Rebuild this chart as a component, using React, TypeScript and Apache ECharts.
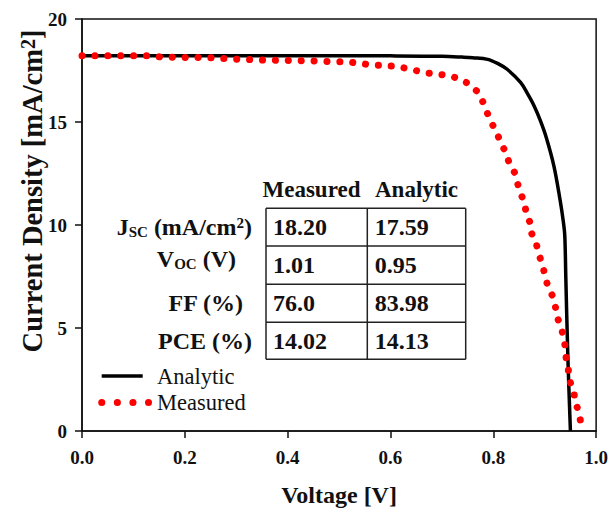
import React, { useEffect, useRef } from 'react';
import * as echarts from 'echarts';

const analyticV = [0, 0.2, 0.4, 0.6, 0.7, 0.74, 0.76, 0.789, 0.81, 0.827, 0.853, 0.866, 0.879, 0.891, 0.903, 0.918, 0.93, 0.936, 0.939, 0.941, 0.945, 0.95];
const analyticJ = [18.22, 18.22, 18.22, 18.21, 18.19, 18.15, 18.12, 18.04, 17.82, 17.56, 16.92, 16.4, 15.8, 15.1, 14.25, 12.85, 11.2, 10.2, 9.5, 7.5, 3.6, 0];

const measuredV = [0, 0.13, 0.155, 0.25, 0.3, 0.36, 0.44, 0.49, 0.514, 0.539, 0.561, 0.591, 0.613, 0.642, 0.666, 0.687, 0.71, 0.729, 0.749, 0.771, 0.78, 0.787, 0.796, 0.806, 0.815, 0.824, 0.83, 0.841, 0.847, 0.853, 0.861, 0.864, 0.873, 0.875, 0.884, 0.889, 0.896, 0.9, 0.906, 0.916, 0.921, 0.924, 0.932, 0.938, 0.94, 0.942, 0.946, 0.947, 0.957, 0.958, 0.966, 0.97];
const measuredJ = [18.22, 18.22, 18.15, 18.12, 18.05, 18.0, 17.97, 17.93, 17.93, 17.85, 17.78, 17.73, 17.7, 17.54, 17.4, 17.33, 17.27, 17.14, 16.9, 16.44, 15.96, 15.51, 15.0, 14.49, 14.0, 13.52, 13.08, 12.56, 12.03, 11.56, 11.03, 10.56, 10.03, 9.57, 9.05, 8.55, 8.04, 7.59, 7.04, 6.51, 6.0, 5.55, 5.0, 4.48, 3.98, 3.47, 2.96, 2.51, 1.95, 1.51, 0.95, 0.43];

const seriesNames = ['Analytic', 'Measured'];
const tableHeaders = ['Measured', 'Analytic'];
const rowLabels = [
  '{b|J}{sub|SC}{b| (mA/cm}{sup|2}{b|)}',
  '{b|V}{sub|OC}{b| (V)}',
  '{b|FF (%)}',
  '{b|PCE (%)}',
];
const measuredVals = ['18.20', '1.01', '76.0', '14.02'];
const analyticVals = ['17.59', '0.95', '83.98', '14.13'];

const SERIF = '"Liberation Serif", "Times New Roman", serif';

export default function App() {
  const ref = useRef<HTMLDivElement>(null);
  useEffect(() => {
    if (!ref.current) return;
    const chart = echarts.init(ref.current, null, { renderer: 'svg' });

    const colX = [266, 367.3, 465.7];
    const rowY = [208.3, 246, 284.3, 322.3, 359.3];
    const labelRight = [252, 236, 243, 252];
    const labelY = [227, 259, 303, 341];
    const richStyles = {
      b: { fontSize: 24, fontWeight: 'bold', fontFamily: SERIF, fill: '#111' },
      sub: { fontSize: 15, fontWeight: 'bold', fontFamily: SERIF, fill: '#111', verticalAlign: 'bottom' },
      sup: { fontSize: 15, fontWeight: 'bold', fontFamily: SERIF, fill: '#111', verticalAlign: 'top' },
    };

    const graphics: any[] = [];
    rowY.forEach((y) => {
      graphics.push({ type: 'line', shape: { x1: colX[0], y1: y, x2: colX[2], y2: y }, style: { stroke: '#222', lineWidth: 1.5 } });
    });
    colX.forEach((x) => {
      graphics.push({ type: 'line', shape: { x1: x, y1: rowY[0], x2: x, y2: rowY[4] }, style: { stroke: '#222', lineWidth: 1.5 } });
    });
    tableHeaders.forEach((h, i) => {
      graphics.push({ type: 'text', x: i === 0 ? 262.5 : 375, y: 189, style: { text: h, fontSize: 23, fontWeight: 'bold', fontFamily: SERIF, fill: '#111', verticalAlign: 'middle' } });
    });
    for (let r = 0; r < 4; r++) {
      const cy = (rowY[r] + rowY[r + 1]) / 2;
      graphics.push({ type: 'text', x: colX[0] + 7, y: cy, style: { text: measuredVals[r], fontSize: 24, fontWeight: 'bold', fontFamily: SERIF, fill: '#111', verticalAlign: 'middle' } });
      graphics.push({ type: 'text', x: colX[1] + 7.5, y: cy, style: { text: analyticVals[r], fontSize: 24, fontWeight: 'bold', fontFamily: SERIF, fill: '#111', verticalAlign: 'middle' } });
      graphics.push({ type: 'text', x: labelRight[r], y: labelY[r], style: { text: rowLabels[r], rich: richStyles, align: 'right', verticalAlign: 'middle' } });
    }
    graphics.push({ type: 'line', shape: { x1: 101.7, y1: 376, x2: 142.7, y2: 376 }, style: { stroke: '#000', lineWidth: 3.5 } });
    graphics.push({ type: 'text', x: 157, y: 376, style: { text: seriesNames[0], fontSize: 22.5, fontFamily: SERIF, fill: '#111', verticalAlign: 'middle' } });
    graphics.push({ type: 'line', shape: { x1: 101.7, y1: 402.5, x2: 148.5, y2: 402.5 }, style: { stroke: '#ff0000', lineWidth: 7, lineDash: [0.1, 15.5], lineCap: 'round' } });
    graphics.push({ type: 'text', x: 157, y: 402.5, style: { text: seriesNames[1], fontSize: 22.5, fontFamily: SERIF, fill: '#111', verticalAlign: 'middle' } });
    graphics.push({
      type: 'text', x: 32, y: 191, rotation: Math.PI / 2,
      style: {
        text: '{b|Current Density [mA/cm}{sup|2}{b|]}',
        rich: {
          b: { fontSize: 28.5, fontWeight: 'bold', fontFamily: SERIF, fill: '#111' },
          sup: { fontSize: 20, fontWeight: 'bold', fontFamily: SERIF, fill: '#111', verticalAlign: 'top' },
        },
        align: 'center', verticalAlign: 'middle',
      },
    });

    chart.setOption({
      animation: false,
      backgroundColor: '#fff',
      grid: { left: 82, right: 11, top: 19, bottom: 76, show: true, borderColor: '#111', borderWidth: 1.5, containLabel: false },
      xAxis: {
        type: 'value', min: 0, max: 1, interval: 0.2,
        name: 'Voltage [V]', nameLocation: 'middle', nameGap: 52,
        nameTextStyle: { fontSize: 24, fontWeight: 'bold', fontFamily: SERIF, color: '#111' },
        axisLine: { show: true, lineStyle: { color: '#111', width: 1.5 } },
        axisTick: { show: true, length: 7, inside: false, lineStyle: { color: '#111', width: 1.5 } },
        axisLabel: { fontSize: 19, fontWeight: 'bold', fontFamily: SERIF, color: '#111', margin: 17, formatter: (v: number) => v.toFixed(1) },
        splitLine: { show: false },
      },
      yAxis: {
        type: 'value', min: 0, max: 20, interval: 5,
        axisLine: { show: true, lineStyle: { color: '#111', width: 1.5 } },
        axisTick: { show: true, length: 7, inside: false, lineStyle: { color: '#111', width: 1.5 } },
        axisLabel: { fontSize: 19, fontWeight: 'bold', fontFamily: SERIF, color: '#111', margin: 15 },
        splitLine: { show: false },
      },
      series: [
        {
          name: seriesNames[0], type: 'line', showSymbol: false, smooth: 0.35,
          data: analyticV.map((v, i) => [v, analyticJ[i]]),
          lineStyle: { color: '#000', width: 3.5 },
          z: 2,
        },
        {
          name: seriesNames[1], type: 'line', showSymbol: false,
          data: measuredV.map((v, i) => [v, measuredJ[i]]),
          lineStyle: { color: '#ff0000', width: 7, type: [0.1, 12.8], cap: 'round' },
          z: 3,
        },
      ],
      graphic: graphics,
    });
    return () => chart.dispose();
  }, []);
  return <div ref={ref} style={{ position: 'absolute', left: 0, top: 0, width: 611, height: 512 }} />;
}
